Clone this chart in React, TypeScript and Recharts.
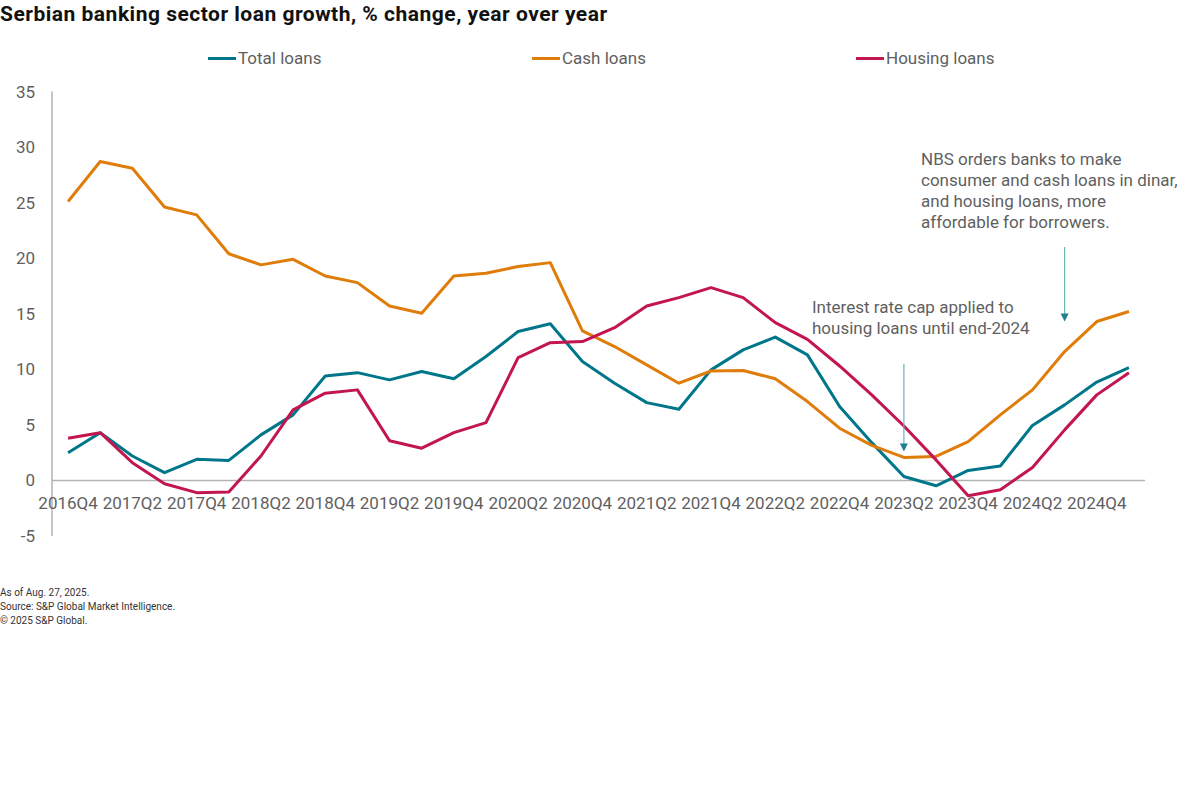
import React from 'react';
import { LineChart, Line, XAxis, YAxis, ReferenceLine } from 'recharts';

const quarters = [
  '2016Q4', '2017Q1', '2017Q2', '2017Q3', '2017Q4', '2018Q1', '2018Q2', '2018Q3', '2018Q4',
  '2019Q1', '2019Q2', '2019Q3', '2019Q4', '2020Q1', '2020Q2', '2020Q3', '2020Q4',
  '2021Q1', '2021Q2', '2021Q3', '2021Q4', '2022Q1', '2022Q2', '2022Q3', '2022Q4',
  '2023Q1', '2023Q2', '2023Q3', '2023Q4', '2024Q1', '2024Q2', '2024Q3', '2024Q4', '2025Q1',
];

const totalLoans = [
  2.5, 4.3, 2.2, 0.7, 1.9, 1.8, 4.1, 5.9, 9.4, 9.7, 9.05, 9.8, 9.15, 11.15, 13.4, 14.1, 10.7,
  8.75, 7.0, 6.4, 9.95, 11.75, 12.9, 11.3, 6.65, 3.4, 0.36, -0.48, 0.9, 1.3, 4.95, 6.8, 8.85, 10.15,
];

const cashLoans = [
  25.1, 28.7, 28.1, 24.6, 23.9, 20.4, 19.4, 19.9, 18.4, 17.8, 15.7, 15.05, 18.4, 18.65, 19.25, 19.6, 13.45,
  12.05, 10.4, 8.75, 9.85, 9.9, 9.15, 7.1, 4.7, 3.15, 2.07, 2.16, 3.5, 5.9, 8.15, 11.6, 14.3, 15.2,
];

const housingLoans = [
  3.8, 4.3, 1.6, -0.3, -1.1, -1.05, 2.2, 6.35, 7.85, 8.15, 3.57, 2.9, 4.3, 5.2, 11.05, 12.4, 12.5,
  13.75, 15.7, 16.45, 17.35, 16.45, 14.2, 12.7, 10.3, 7.7, 4.9, 1.85, -1.38, -0.84, 1.17, 4.55, 7.7, 9.7,
];

const yTicks = [-5, 0, 5, 10, 15, 20, 25, 30, 35];

const seriesInfo = [
  { key: 'total', name: 'Total loans', color: '#00768a' },
  { key: 'cash', name: 'Cash loans', color: '#e07c0a' },
  { key: 'housing', name: 'Housing loans', color: '#c3154f' },
];

const data = quarters.map((q, i) => ({
  q,
  total: totalLoans[i],
  cash: cashLoans[i],
  housing: housingLoans[i],
}));

const FONT = 'Roboto, "Noto Sans", sans-serif';
const TEXT_GRAY = '#5f5f5f';

const XTick = (props: any) => {
  const { x, y, payload } = props;
  return (
    <text x={x} y={y - 27} textAnchor="middle" fill={TEXT_GRAY} fontSize={17} fontFamily={FONT}>
      {payload.value}
    </text>
  );
};

const ArrowShape = (props: any) => {
  const { x1, y1, x2, y2 } = props;
  return (
    <g>
      <line x1={x1} y1={y1} x2={x2} y2={y2 - 6} stroke="#6fb0bd" strokeWidth={1.2} />
      <polygon points={`${x2 - 4},${y2 - 8} ${x2 + 4},${y2 - 8} ${x2},${y2}`} fill="#1f7f8f" />
    </g>
  );
};

export default function App() {
  return (
    <div style={{ position: 'absolute', left: 0, top: 0, width: 1200, height: 800, background: '#fff', fontFamily: FONT }}>
      <div style={{ position: 'absolute', left: 0, top: 2, fontSize: 21, letterSpacing: 0.5, fontWeight: 700, color: '#111', whiteSpace: 'nowrap' }}>
        Serbian banking sector loan growth, % change, year over year
      </div>
      {seriesInfo.map((s, i) => (
        <div key={s.key} style={{ position: 'absolute', left: 208 + i * 324, top: 47, height: 22, display: 'flex', alignItems: 'center', whiteSpace: 'nowrap' }}>
          <div style={{ width: 28, height: 3, background: s.color, marginRight: 2 }} />
          <span style={{ fontSize: 17, color: TEXT_GRAY }}>{s.name}</span>
        </div>
      ))}
      <div style={{ position: 'absolute', left: 0, top: 0 }}>
        <LineChart width={1200} height={566} data={data} margin={{ top: 91.5, right: 55, bottom: 0, left: 0 }}>
          <XAxis
            dataKey="q"
            scale="band"
            interval={1}
            axisLine={false}
            tickLine={false}
            tickSize={0}
            tickMargin={0}
            height={30}
            tick={<XTick />}
          />
          <YAxis
            type="number"
            domain={[-5, 35]}
            ticks={yTicks}
            interval={0}
            width={52}
            tickLine={false}
            tickSize={0}
            tickMargin={17}
            axisLine={{ stroke: '#b3b3b3', strokeWidth: 1.5 }}
            tick={{ fill: TEXT_GRAY, fontSize: 17, fontFamily: FONT }}
          />
          <ReferenceLine y={0} stroke="#b3b3b3" strokeWidth={1.5} />
          {seriesInfo.map((s) => (
            <Line
              key={s.key}
              dataKey={s.key}
              name={s.name}
              stroke={s.color}
              strokeWidth={3}
              dot={false}
              activeDot={false}
              isAnimationActive={false}
              strokeLinejoin="round"
            />
          ))}
          <ReferenceLine
            segment={[{ x: '2023Q2', y: 10.5 }, { x: '2023Q2', y: 2.6 }]}
            shape={<ArrowShape />}
          />
          <ReferenceLine
            segment={[{ x: '2024Q3', y: 21.0 }, { x: '2024Q3', y: 14.3 }]}
            shape={<ArrowShape />}
          />
        </LineChart>
      </div>
      <div style={{ position: 'absolute', left: 812, top: 297, fontSize: 17, lineHeight: '21px', color: TEXT_GRAY, whiteSpace: 'nowrap' }}>
        Interest rate cap applied to
        <br />
        housing loans until end-2024
      </div>
      <div style={{ position: 'absolute', left: 921, top: 149, fontSize: 17, lineHeight: '21px', color: TEXT_GRAY, whiteSpace: 'nowrap' }}>
        NBS orders banks to make
        <br />
        consumer and cash loans in dinar,
        <br />
        and housing loans, more
        <br />
        affordable for borrowers.
      </div>
      <div style={{ position: 'absolute', left: 0, top: 586, fontSize: 10, lineHeight: '14px', color: '#333' }}>
        As of Aug. 27, 2025.
        <br />
        Source: S&amp;P Global Market Intelligence.
        <br />
        © 2025 S&amp;P Global.
      </div>
    </div>
  );
}
